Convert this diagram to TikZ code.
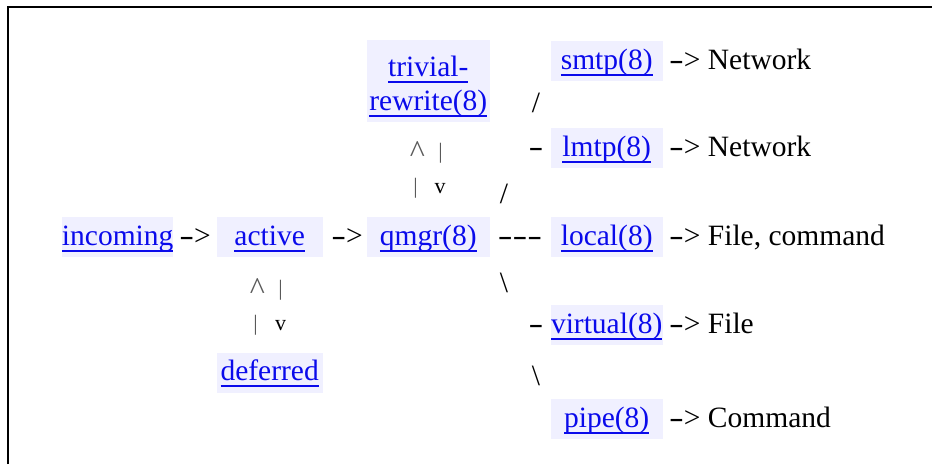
\documentclass[tikz,border=0pt]{standalone}
\usepackage{fontspec,graphicx}
\setmainfont{Liberation Serif}
\definecolor{pflav}{RGB}{240,240,255}
\definecolor{pflink}{RGB}{10,10,235}
\usetikzlibrary{positioning}
\newcommand\lnk[1]{\setbox0=\hbox{#1}\rlap{\rule[-6.5pt]{\wd0}{2pt}}\box0}
\newcommand\hy{\scalebox{1.5}[1]{-}}

\begin{document}
\begin{tikzpicture}[x=1pt,y=-1pt,font=\fontsize{29.5}{34}\selectfont,
  cell/.style={fill=pflav,text=pflink,inner sep=0pt,text height=28.3pt,text depth=11.7pt,minimum width=112pt},
  glyph/.style={inner sep=0pt,anchor=base},
  small/.style={inner sep=0pt,anchor=base,font=\fontsize{22}{26}\selectfont,text=black!65}]
  \useasboundingbox (0,0) rectangle (932,464);
  \draw[line width=2pt] (7.8,464) |- (932,6.8);
  % queues
  \node[cell,minimum width=110pt] (incoming) at (117.7,236.7) {\lnk{incoming}};
  \node[cell,minimum width=106pt] (active) at (269.7,236.7) {\lnk{active}};
  \node[cell,minimum width=106pt] (deferred) at (269.7,372.5) {\lnk{deferred}};
  \node[cell,minimum width=123.3pt] (qmgr) at (428.3,236.7) {\lnk{qmgr(8)}};
  \node[fill=pflav,inner sep=0pt,minimum width=123.3pt,minimum height=81.7pt] (trivial) at (428.3,80.8) {};
  \node[glyph,text=pflink] (trivA) at (428.3,76) {\lnk{trivial-}};
  \node[glyph,text=pflink] (trivB) at (428.3,110) {\lnk{rewrite(8)}};
  % delivery agents
  \node[cell] (smtp) at (606.7,60.8) {\lnk{smtp(8)}};
  \node[cell] (lmtp) at (606.7,148.3) {\lnk{lmtp(8)}};
  \node[cell] (local) at (606.7,237.3) {\lnk{local(8)}};
  \node[cell] (virtual) at (606.7,325) {\lnk{virtual(8)}};
  \node[cell] (pipe) at (606.7,419) {\lnk{pipe(8)}};
  % destinations
  \node[glyph,anchor=base west] (smtpto) at (669,69.1) {\hy> Network};
  \node[glyph,anchor=base west] (lmtpto) at (669,156.6) {\hy> Network};
  \node[glyph,anchor=base west] (localto) at (669,245.6) {\hy> File, command};
  \node[glyph,anchor=base west] (virtualto) at (669,333.3) {\hy> File};
  \node[glyph,anchor=base west] (pipeto) at (669,427.3) {\hy> Command};
  % text connectors
  \node[glyph] (inact) at (195,245) {\hy>};
  \node[glyph] (actq) at (347,245) {\hy>};
  \node[glyph] (qlocal) at (520,245) {\hy\hy\hy};
  \node[glyph] (sl1) at (536,112) {/};
  \node[glyph] (dl1) at (536,156.7) {\hy};
  \node[glyph] (sl2) at (504,203) {/};
  \node[glyph] (bs1) at (504,292) {\textbackslash};
  \node[glyph] (dl2) at (536,333.3) {\hy};
  \node[glyph] (bs2) at (536,385) {\textbackslash};
  \node[small,font=\fontsize{32}{36}\selectfont] (tup) at (417.5,162) {\textasciicircum};
  \node[small] (tbar) at (440.5,158) {|};
  \node[small] (qbar) at (415.5,193) {|};
  \node[small,text=black] (qdn) at (440,193) {v};
  \node[small,font=\fontsize{32}{36}\selectfont] (aup) at (257.5,299) {\textasciicircum};
  \node[small] (abar) at (280.5,295) {|};
  \node[small] (dbar) at (255.5,330) {|};
  \node[small,text=black] (ddn) at (280.5,330) {v};
\end{tikzpicture}
\end{document}
